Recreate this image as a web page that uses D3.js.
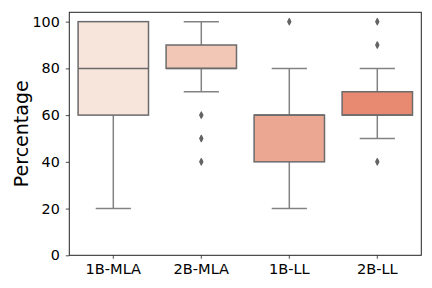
<!DOCTYPE html>
<html>
<head>
<meta charset="utf-8">
<script src="https://cdn.jsdelivr.net/npm/d3@7"></script>
<style>
  body { margin: 0; background: #fff; }
  text { font-family: "DejaVu Sans", sans-serif; }
</style>
</head>
<body>
<div id="chart"></div>
<script>
/* Data */
var categories = ["1B-MLA", "2B-MLA", "1B-LL", "2B-LL"],
    q1 = [60, 80, 40, 60],
    median = [80, 80, 60, 60],
    q3 = [100, 90, 60, 70],
    whiskerLow = [20, 70, 20, 50],
    whiskerHigh = [100, 100, 80, 80],
    outliers = [[], [60, 50, 40], [100], [100, 90, 40]],
    yTicks = [0, 20, 40, 60, 80, 100];

var fills = ["#f7e4da", "#f3c7b5", "#eca792", "#e88a72"];

/* Settings */
var width = 432,
    height = 288,
    margin = {top: 12.3, right: 10.7, bottom: 32.7, left: 69.3},
    boxColor = "#6b6b6b",
    whiskerColor = "#828282",
    flierColor = "#636363";

var svg = d3.select("#chart").append("svg")
    .attr("width", width)
    .attr("height", height)
    .attr("viewBox", "0 0 " + width + " " + height);

var x = d3.scaleBand()
    .domain(categories)
    .range([margin.left, width - margin.right])
    .paddingInner(0.2)
    .paddingOuter(0.1);

var y = d3.scaleLinear()
    .domain([0, 104])
    .range([height - margin.bottom, margin.top]);

var boxes = categories.map(function(c, i) {
  return {name: c, q1: q1[i], med: median[i], q3: q3[i],
          lo: whiskerLow[i], hi: whiskerHigh[i], out: outliers[i], fill: fills[i]};
});

var g = svg.append("g").selectAll("g")
  .data(boxes)
  .join("g");

var cx = function(d) { return x(d.name) + x.bandwidth() / 2; };

/* Whiskers */
g.append("line")
  .attr("x1", cx).attr("x2", cx)
  .attr("y1", function(d) { return y(d.q1); })
  .attr("y2", function(d) { return y(d.lo); })
  .attr("stroke", whiskerColor).attr("stroke-width", 1.5);
g.append("line")
  .attr("x1", cx).attr("x2", cx)
  .attr("y1", function(d) { return y(d.q3); })
  .attr("y2", function(d) { return y(d.hi); })
  .attr("stroke", whiskerColor).attr("stroke-width", 1.5);

/* Caps */
["lo", "hi"].forEach(function(k) {
  g.append("line")
    .attr("x1", function(d) { return cx(d) - x.bandwidth() / 4; })
    .attr("x2", function(d) { return cx(d) + x.bandwidth() / 4; })
    .attr("y1", function(d) { return y(d[k]); })
    .attr("y2", function(d) { return y(d[k]); })
    .attr("stroke", whiskerColor).attr("stroke-width", 1.5);
});

/* Boxes */
g.append("rect")
  .attr("x", function(d) { return x(d.name); })
  .attr("width", x.bandwidth())
  .attr("y", function(d) { return y(d.q3); })
  .attr("height", function(d) { return y(d.q1) - y(d.q3); })
  .attr("fill", function(d) { return d.fill; })
  .attr("stroke", boxColor).attr("stroke-width", 1.5);

/* Medians */
g.append("line")
  .attr("x1", function(d) { return x(d.name); })
  .attr("x2", function(d) { return x(d.name) + x.bandwidth(); })
  .attr("y1", function(d) { return y(d.med); })
  .attr("y2", function(d) { return y(d.med); })
  .attr("stroke", boxColor).attr("stroke-width", 1.5);

/* Fliers (thin diamonds) */
g.selectAll("path.flier")
  .data(function(d) { return d.out.map(function(v) { return {x: cx(d), v: v}; }); })
  .join("path")
  .attr("class", "flier")
  .attr("d", function(p) {
    var px = p.x, py = y(p.v);
    return "M" + px + "," + (py - 3.2) + "L" + (px + 1.6) + "," + py +
           "L" + px + "," + (py + 3.2) + "L" + (px - 1.6) + "," + py + "Z";
  })
  .attr("fill", flierColor)
  .attr("stroke", flierColor)
  .attr("stroke-width", 1.2)
  .attr("stroke-linejoin", "round");

/* Axes */
var xAxis = svg.append("g")
  .attr("transform", "translate(0," + (height - margin.bottom) + ")")
  .call(d3.axisBottom(x).tickSize(3.5).tickPadding(4.5).tickSizeOuter(0));

var yAxis = svg.append("g")
  .attr("transform", "translate(" + margin.left + ",0)")
  .call(d3.axisLeft(y).tickValues(yTicks).tickSize(3.5).tickPadding(6).tickSizeOuter(0));

[xAxis, yAxis].forEach(function(a) {
  a.select(".domain").remove();
  a.selectAll("line").attr("stroke", "#222").attr("stroke-width", 0.8);
  a.selectAll("text").attr("fill", "#000")
    .style("font-family", "DejaVu Sans, sans-serif");
});
xAxis.selectAll("text").attr("font-size", "14.6px");
yAxis.selectAll("text").attr("font-size", "14.3px");

/* Frame */
svg.append("rect")
  .attr("x", margin.left)
  .attr("y", margin.top)
  .attr("width", width - margin.left - margin.right)
  .attr("height", height - margin.top - margin.bottom)
  .attr("fill", "none")
  .attr("stroke", "#222")
  .attr("stroke-width", 1);

svg.append("text")
  .attr("transform", "translate(28.3," + ((margin.top + height - margin.bottom) / 2) + ") rotate(-90)")
  .attr("text-anchor", "middle")
  .attr("font-size", "19px")
  .attr("fill", "#000")
  .text("Percentage");
</script>
</body>
</html>
